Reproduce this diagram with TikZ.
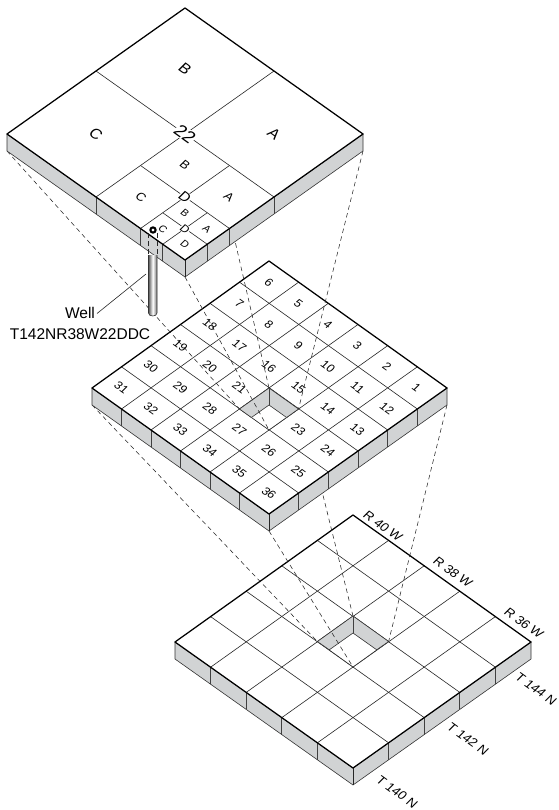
\documentclass[tikz,border=0pt]{standalone}
\usepackage{fontspec}
\setmainfont{Liberation Sans}
\usetikzlibrary{calc, positioning}
\definecolor{sidegray}{HTML}{D1D3D4}

\begin{document}
\begin{tikzpicture}[x=1pt, y=-1pt,
      edgeline/.style={draw=black, line width=1.25pt, line join=round},
      gridline/.style={draw=black!85, line width=0.6pt},
      sideface/.style={fill=sidegray, draw=black!80, line width=0.6pt, line join=round},
      divider/.style={draw=black!75, line width=0.9pt},
      dashline/.style={draw=black!85, line width=0.55pt, dash pattern=on 4.5pt off 3.5pt},
      platetext/.style={cm={.85,-.61,.72,.72,(0,0)}, inner sep=0pt},
      numlabel/.style={platetext, font=\fontsize{11.5}{11.5}\selectfont},
      bigletter/.style={platetext, font=\fontsize{15}{15}\selectfont},
      midletter/.style={platetext, font=\fontsize{12}{12}\selectfont},
      smallletter/.style={platetext, font=\fontsize{10}{10}\selectfont},
      centerletter/.style={platetext, fill=white, inner sep=0.5pt},
      marginlabel/.style={platetext, font=\fontsize{12.5}{12.5}\selectfont},
      welltext/.style={inner sep=0pt, font=\fontsize{15.5}{15.5}\selectfont}
      ]
      \useasboundingbox (0,0) rectangle (558,810);

      % lowest plate: township grid
      \coordinate (c3t) at (353,515);
      \coordinate (c3r) at (531,642);
      \coordinate (c3b) at (353,768);
      \coordinate (c3l) at (175,642);
      \path[sideface] (c3l) -- (c3b) -- (c3r) -- ++(0,17) -- ($(c3b)+(0,17)$) -- ($(c3l)+(0,17)$) -- cycle;
      \draw[gridline] (c3b) -- +(0,17);
      \fill[white] (c3t) -- (c3r) -- (c3b) -- (c3l) -- cycle;
      \foreach \i in {1,...,4} {
        \draw[gridline] ($(c3t)!\i/5!(c3r)$) -- ($(c3l)!\i/5!(c3b)$);
        \draw[gridline] ($(c3t)!\i/5!(c3l)$) -- ($(c3r)!\i/5!(c3b)$);
        \draw[divider] ($(c3l)!\i/5!(c3b)$) -- +(0,17);
        \draw[divider] ($(c3r)!\i/5!(c3b)$) -- +(0,17);
      }
      % square hole of the lowest plate
      \coordinate (h3t) at (353,616);
      \coordinate (h3r) at (388.6,641.5);
      \coordinate (h3b) at (353,667);
      \coordinate (h3l) at (317.4,641.5);
      \filldraw[gridline, fill=white] (h3t) -- (h3r) -- (h3b) -- (h3l) -- cycle;
      \path[sideface] (h3l) -- (h3t) -- (h3r) -- (376.7,649.8) -- (353,633) -- (329.3,649.8) -- cycle;
      \draw[divider] (h3t) -- +(0,17);
      \draw[edgeline] (c3t) -- (c3r) -- (c3b) -- (c3l) -- cycle;

      \foreach \x/\y/\n/\txt in {%
        383/526/r40/R 40 W,
        453/572/r38/R 38 W,
        524/623/r36/R 36 W,
        536/689/t144/T 144 N,
        468/739/t142/T 142 N,
        397/792/t140/T 140 N}
        \node[marginlabel] (\n) at (\x,\y) {\txt};

      % lines from the middle plate down to the hole
      \coordinate (c2t) at (269,261);
      \coordinate (c2r) at (447,388);
      \coordinate (c2b) at (269,514);
      \coordinate (c2l) at (92,388);
      \draw[dashline] ($(c2l)+(0,17)$) -- (h3l);
      \draw[dashline] ($(c2b)+(0,17)$) -- (h3b);
      \draw[dashline] ($(c2r)+(0,17)$) -- (h3r);
      \draw[dashline] ($(c2t)+(0,17)$) -- (h3t);

      % middle plate: sections
      \path[sideface] (c2l) -- (c2b) -- (c2r) -- ++(0,17) -- ($(c2b)+(0,17)$) -- ($(c2l)+(0,17)$) -- cycle;
      \draw[gridline] (c2b) -- +(0,17);
      \fill[white] (c2t) -- (c2r) -- (c2b) -- (c2l) -- cycle;
      \foreach \i in {1,...,5} {
        \draw[gridline] ($(c2t)!\i/6!(c2r)$) -- ($(c2l)!\i/6!(c2b)$);
        \draw[gridline] ($(c2t)!\i/6!(c2l)$) -- ($(c2r)!\i/6!(c2b)$);
        \draw[divider] ($(c2l)!\i/6!(c2b)$) -- +(0,17);
        \draw[divider] ($(c2r)!\i/6!(c2b)$) -- +(0,17);
      }
      \coordinate (h2t) at (269,388);
      \coordinate (h2r) at (298.5,409);
      \coordinate (h2b) at (269,430);
      \coordinate (h2l) at (239.5,409);
      \filldraw[gridline, fill=white] (h2t) -- (h2r) -- (h2b) -- (h2l) -- cycle;
      \path[sideface] (h2l) -- (h2t) -- (h2r) -- (286.6,417.5) -- (269,405) -- (251.4,417.5) -- cycle;
      \draw[divider] (h2t) -- +(0,17);
      \draw[edgeline] (c2t) -- (c2r) -- (c2b) -- (c2l) -- cycle;

      \foreach \u/\v/\txt in {% column/row/section number
        0/0/6,  1/0/5,  2/0/4,  3/0/3,  4/0/2,  5/0/1,
        0/1/7,  1/1/8,  2/1/9,  3/1/10, 4/1/11, 5/1/12,
        0/2/18, 1/2/17, 2/2/16, 3/2/15, 4/2/14, 5/2/13,
        0/3/19, 1/3/20, 2/3/21,         4/3/23, 5/3/24,
        0/4/30, 1/4/29, 2/4/28, 3/4/27, 4/4/26, 5/4/25,
        0/5/31, 1/5/32, 2/5/33, 3/5/34, 4/5/35, 5/5/36}
        \node[numlabel] (n\txt) at ({269+(\u-\v)*29.5},{261+(\u+\v+1)*21.1}) {\txt};

      % lines from the top plate down to the hole
      \coordinate (c1t) at (185,8);
      \coordinate (c1r) at (363,134);
      \coordinate (c1b) at (185,260);
      \coordinate (c1l) at (7,134);
      \draw[dashline] ($(c1l)+(0,17)$) -- (h2l);
      \draw[dashline] ($(c1b)+(0,17)$) -- (h2b);
      \draw[dashline] ($(c1r)+(0,17)$) -- (h2r);
      \draw[dashline] ($(c1t)+(0,17)$) -- (h2t);

      % top plate: section 22
      \coordinate (s1) at ($(c1l)!.5!(c1b)$);
      \coordinate (s2) at ($(c1r)!.5!(c1b)$);
      \coordinate (q1) at ($(s1)!.5!(c1b)$);
      \coordinate (q2) at ($(s2)!.5!(c1b)$);
      \coordinate (e1) at ($(q1)!.5!(c1b)$);
      \coordinate (e2) at ($(q2)!.5!(c1b)$);
      \coordinate (c1c) at (185,134);
      \coordinate (c1d) at (185,197);
      \path[sideface] (c1l) -- (c1b) -- (c1r) -- ++(0,17) -- ($(c1b)+(0,17)$) -- ($(c1l)+(0,17)$) -- cycle;
      \fill[white] (c1t) -- (c1r) -- (c1b) -- (c1l) -- cycle;
      \draw[gridline] (c1b) -- +(0,17);
      \draw[gridline] ($(c1t)!.5!(c1r)$) -- (s1);
      \draw[gridline] ($(c1t)!.5!(c1l)$) -- (s2);
      \draw[gridline] ($(c1c)!.5!(s2)$) -- (q1);
      \draw[gridline] ($(c1c)!.5!(s1)$) -- (q2);
      \draw[gridline] ($(c1d)!.5!(q2)$) -- (e1);
      \draw[gridline] ($(c1d)!.5!(q1)$) -- (e2);
      \foreach \i in {s1,s2,q1,q2,e1,e2}
        \draw[divider] (\i) -- +(0,17);
      \draw[edgeline] (c1t) -- (c1r) -- (c1b) -- (c1l) -- cycle;

      \foreach \x/\y/\p/\n/\txt in {%
        185/69/bigletter/b1/B,
        96/134/bigletter/c1/C,
        274/134/bigletter/a1/A,
        185/165/midletter/b2/B,
        141/197/midletter/c2/C,
        229/197/midletter/a2/A,
        185/213/smallletter/b3/B,
        163/229/smallletter/c3/C,
        207/229/smallletter/a3/A,
        185/244/smallletter/d3/D}
        \node[\p] (\n) at (\x,\y) {\txt};
      \node[centerletter, font=\fontsize{17.5}{17.5}\selectfont] (sec22) at (c1c) {22};
      \node[centerletter, font=\fontsize{14}{14}\selectfont] (d2) at (c1d) {D};
      \node[centerletter, font=\fontsize{11}{11}\selectfont] (dd) at (185,229) {D};

      % the well
      \draw[left color=black!65, right color=black!55, middle color=white, draw=black!80, line width=0.6pt]
        (148.5,255) -- (148.5,313) .. controls (148.5,317) and (157,317) .. (157,313) -- (157,255);
      \draw[dashline] (148.5,233) -- (148.5,255);
      \draw[dashline] (157,233) -- (157,255);
      \filldraw[draw=black, fill=white, line width=2.1pt] (153,230) circle (2.6);
      \coordinate (wellrod) at (146,274);

      \node[welltext] (wellid) at (80,334) {T142NR38W22DDC};
      \node[welltext, above=9pt of wellid] (well) {Well};
      \draw[gridline] ([xshift=2pt]well.east) -- (wellrod);
    \end{tikzpicture}
\end{document}
